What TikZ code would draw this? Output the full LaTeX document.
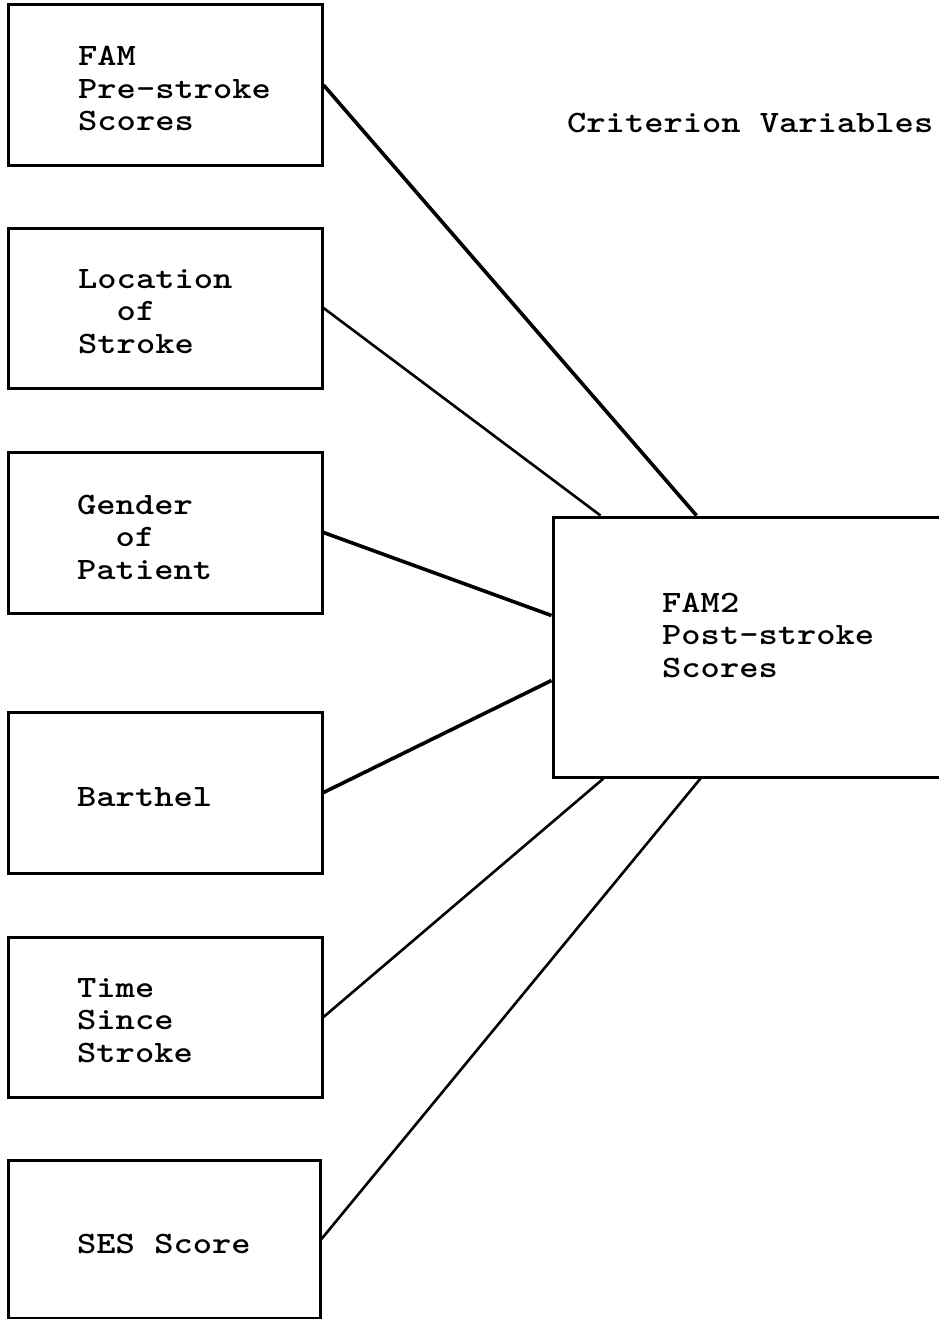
\documentclass[tikz,border=0pt]{standalone}
\usepackage{fontspec}
\newfontfamily\typew{lmmonolt10-bold.otf}[FakeStretch=1.18]
\usetikzlibrary{positioning}

\begin{document}
\begin{tikzpicture}[x=1pt,y=-1pt,
    box/.style={draw,line width=3pt,minimum width=314pt,minimum height=160pt,inner sep=0pt},
    lbl/.style={anchor=base west,align=left,inner sep=0pt,font=\typew\fontsize{31.1}{32.5}\selectfont},
    thinlink/.style={line width=2.6pt},
    thicklink/.style={line width=3.6pt}]

    \useasboundingbox (0,0) rectangle (938,1319);

    % predictor boxes
    \node[box] (fam) at (165,85) {};
    \node[box] (loc) at (165,308) {};
    \node[box,minimum height=161pt] (gender) at (165,532.5) {};
    \node[box,minimum height=161pt] (barthel) at (165,792.5) {};
    \node[box] (time) at (165,1017) {};
    \node[box,minimum width=312pt,minimum height=158pt] (ses) at (164,1239) {};

    % criterion box
    \node[box,minimum width=407pt,minimum height=260pt] (post) at (756.5,647) {};

    % labels (base = last line)
    \node[lbl] (famtxt) at (78,131) {FAM\\Pre-stroke\\Scores};
    \node[lbl] (loctxt) at (78,353) {Location\\\hphantom{xx}of\\Stroke};
    \node[lbl] (gendertxt) at (77,579) {Gender\\\hphantom{xx}of\\Patient};
    \node[lbl] (barthtxt) at (77,806) {Barthel};
    \node[lbl] (timetxt) at (77,1062) {Time\\Since\\Stroke};
    \node[lbl] (sestxt) at (77,1253) {SES Score};
    \node[lbl] (posttxt) at (662,677) {FAM2\\Post-stroke\\Scores};
    \node[lbl] (crit) at (567,132) {Criterion Variables};

    % links
    \draw[thicklink] (fam.east) -- ([xshift=145pt]post.north west);
    \draw[thinlink] (loc.east) -- ([xshift=49pt]post.north west);
    \draw[thicklink] (gender.east) -- ([yshift=-100pt]post.north west);
    \draw[thicklink] (barthel.east) -- ([yshift=-165pt]post.north west);
    \draw[thinlink] (time.east) -- ([xshift=52pt]post.south west);
    \draw[thinlink] (ses.east) -- ([xshift=149pt]post.south west);

\end{tikzpicture}
\end{document}
